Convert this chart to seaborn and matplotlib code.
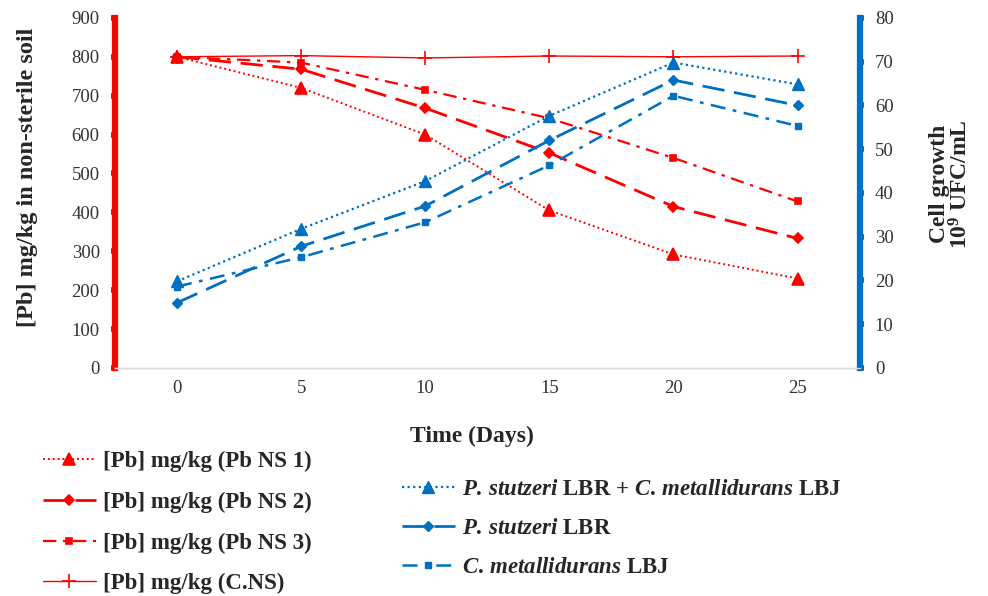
import matplotlib
matplotlib.use("Agg")
import matplotlib.pyplot as plt
import seaborn as sns
import pandas as pd

days = [0, 5, 10, 15, 20, 25]

# Pb concentration in non-sterile soil (mg/kg), left axis
pb_ns1 = [800, 720, 600, 405, 292, 230]
pb_ns2 = [800, 768, 668, 553, 415, 333]
pb_ns3 = [800, 785, 715, 642, 540, 428]
pb_cns = [800, 803, 797, 802, 800, 802]

# cell growth (10^9 UFC/mL), right axis
mix_growth = [19.8, 31.8, 42.7, 57.6, 69.8, 64.8]
stutzeri_growth = [14.9, 27.8, 37.0, 52.0, 65.8, 60.0]
metalli_growth = [18.6, 25.3, 33.3, 46.3, 62.2, 55.3]

red = "#FF0000"
blue = "#0070C0"

sns.set_style("white")
plt.rcParams["font.family"] = ["Liberation Serif", "DejaVu Serif"]
plt.rcParams["mathtext.fontset"] = "custom"
plt.rcParams["mathtext.rm"] = "Liberation Serif:bold"
plt.rcParams["mathtext.it"] = "Liberation Serif:italic:bold"
plt.rcParams["mathtext.bf"] = "Liberation Serif:bold"

fig = plt.figure(figsize=(9.88, 5.96), dpi=100)
ax = fig.add_axes([0.1164, 0.3826, 0.7536, 0.5874])
ax2 = ax.twinx()

dotted = (1, 1.5)
longdash = (8, 3.5)
dashdot = (6, 3, 1.5, 3)

red_series = [
    (pb_ns1, "[Pb] mg/kg (Pb NS 1)", dotted, "^", 8, 1.4),
    (pb_ns2, "[Pb] mg/kg (Pb NS 2)", longdash, "D", 5.5, 2.0),
    (pb_ns3, "[Pb] mg/kg (Pb NS 3)", dashdot, "s", 5, 1.6),
    (pb_cns, "[Pb] mg/kg (C.NS)", None, "+", 10, 1.0),
]
blue_series = [
    (mix_growth, r"$\mathit{P.}\,\mathit{stutzeri}$ LBR + $\mathit{C.}\,\mathit{metallidurans}$ LBJ", dotted, "^", 8, 1.6),
    (stutzeri_growth, r"$\mathit{P.}\,\mathit{stutzeri}$ LBR", longdash, "D", 5.5, 2.0),
    (metalli_growth, r"$\mathit{C.}\,\mathit{metallidurans}$ LBJ", dashdot, "s", 5, 1.8),
]

red_handles = []
for vals, label, dash, mk, ms, lw in red_series:
    df = pd.DataFrame({"day": days, "val": vals})
    sns.lineplot(data=df, x="day", y="val", ax=ax, color=red, marker=mk,
                 markersize=ms, linewidth=lw, markeredgecolor=red,
                 markeredgewidth=1.2, label=label, legend=False)
    line = ax.lines[-1]
    if dash is not None:
        line.set_dashes(dash)
    red_handles.append(line)

blue_handles = []
for vals, label, dash, mk, ms, lw in blue_series:
    df = pd.DataFrame({"day": days, "val": vals})
    sns.lineplot(data=df, x="day", y="val", ax=ax2, color=blue, marker=mk,
                 markersize=ms, linewidth=lw, markeredgecolor=blue,
                 markeredgewidth=1.0, label=label, legend=False)
    line = ax2.lines[-1]
    line.set_dashes(dash)
    blue_handles.append(line)

ax.set_xlim(-2.5, 27.5)
ax.set_ylim(0, 900)
ax2.set_ylim(0, 80)
ax.set_xticks(days)
ax.set_yticks(range(0, 901, 100))
ax2.set_yticks(range(0, 81, 10))

for a in (ax, ax2):
    a.spines["top"].set_visible(False)
    a.spines["bottom"].set_color("#d9d9d9")
    a.spines["bottom"].set_linewidth(1.0)
ax.spines["right"].set_visible(False)
ax2.spines["left"].set_visible(False)
ax.spines["left"].set_color(red)
ax.spines["left"].set_linewidth(4.5)
ax2.spines["right"].set_color(blue)
ax2.spines["right"].set_linewidth(4.5)

ax.tick_params(axis="y", direction="out", length=3, width=4, color=red,
               labelsize=13.5, pad=8, left=True, labelcolor="#333333")
ax2.tick_params(axis="y", direction="out", length=3, width=4, color=blue,
                labelsize=13.5, pad=8, right=True, labelcolor="#333333")
ax.tick_params(axis="x", length=0, labelsize=13.5, pad=9, labelcolor="#333333")

ax.set_xlabel("Time (Days)", fontsize=17, fontweight="bold")
ax.xaxis.set_label_coords(0.4795, -0.165)
ax.set_ylabel("")
ax2.set_ylabel("")
fig.text(28 / 988, 1 - 177 / 596, "[Pb] mg/kg in non-sterile soil", rotation=90,
         ha="center", va="center", fontsize=17.5, fontweight="bold")
fig.text(951 / 988, 1 - 184 / 596, "Cell growth\n10$^{\\mathrm{9}}$ UFC/mL", rotation=90,
         ha="center", va="center", fontsize=17, fontweight="bold",
         linespacing=0.95)

leg_kw = dict(frameon=False, prop={"weight": "bold", "size": 16.5},
              handlelength=2.3, handletextpad=0.3, borderpad=0,
              borderaxespad=0)
fig.legend(handles=red_handles, loc="upper left",
           bbox_to_anchor=(43 / 988, 1 - 451 / 596), labelspacing=0.85, **leg_kw)
fig.legend(handles=blue_handles, loc="upper left",
           bbox_to_anchor=(402 / 988, 1 - 479 / 596), labelspacing=0.78, **leg_kw)

fig.savefig("out.png", dpi=100)
